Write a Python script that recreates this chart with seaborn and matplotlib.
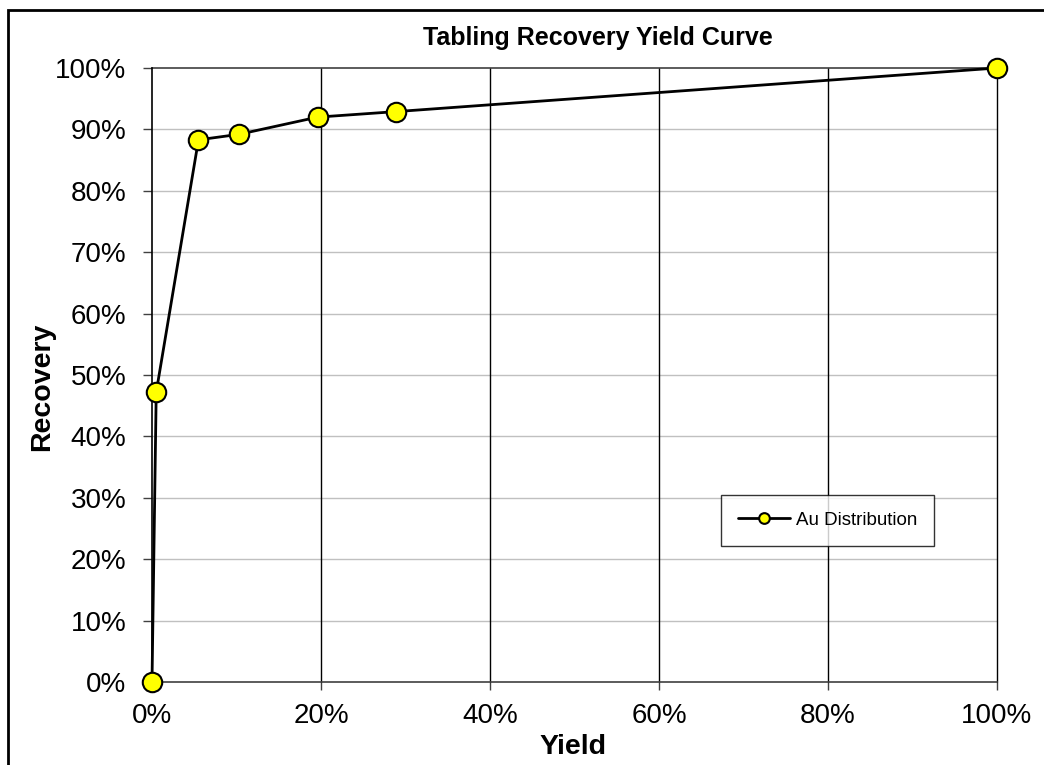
import matplotlib
matplotlib.use("Agg")
import matplotlib.pyplot as plt
import seaborn as sns
import pandas as pd
from matplotlib.patches import Rectangle
from matplotlib.ticker import PercentFormatter, MultipleLocator

sns.set_theme(style="white")
plt.rcParams['font.family'] = ['Liberation Sans', 'DejaVu Sans']
plt.rcParams['text.color'] = 'black'
plt.rcParams['axes.labelcolor'] = 'black'

yield_pct = [0.0, 0.5, 5.5, 10.3, 19.6, 28.9, 100.0]
recovery_pct = [0.0, 47.2, 88.3, 89.2, 92.0, 92.9, 100.0]
series_name = "Au Distribution"

df = pd.DataFrame({"Yield": yield_pct, "Recovery": recovery_pct, "Series": series_name})

fig = plt.figure(figsize=(10.44, 7.65), dpi=100)
ax = fig.add_axes([152/1044, 1-682/765, (997-152)/1044, (682-68)/765])

sns.lineplot(data=df, x="Yield", y="Recovery", hue="Series", palette=["black"],
             marker="o", markersize=14, markerfacecolor="#FFFF00",
             markeredgecolor="black", markeredgewidth=1.5, linewidth=2,
             ax=ax, sort=False, zorder=5, clip_on=False)

ax.set_xlim(0, 100)
ax.set_ylim(0, 100)
ax.xaxis.set_major_locator(MultipleLocator(20))
ax.yaxis.set_major_locator(MultipleLocator(10))
ax.xaxis.set_major_formatter(PercentFormatter(decimals=0))
ax.yaxis.set_major_formatter(PercentFormatter(decimals=0))

ax.grid(False)
for v in range(10, 100, 10):
    ax.axhline(v, color="#c0c0c0", linewidth=1, zorder=1)
for v in range(20, 101, 20):
    ax.axvline(v, color="black", linewidth=1, zorder=1.5, clip_on=False)

for side in ["top", "right"]:
    ax.spines[side].set_visible(False)
ax.spines["left"].set_color("black")
ax.spines["left"].set_linewidth(1.2)
ax.spines["bottom"].set_color("#404040")
ax.spines["bottom"].set_linewidth(1.2)
ax.axhline(100, color="#404040", linewidth=1.2, zorder=1.5, clip_on=False)

ax.tick_params(axis="y", which="major", direction="out", length=6.5, width=1,
               color="#404040", labelsize=20, labelcolor="black", left=True, pad=12)
ax.tick_params(axis="x", which="major", direction="out", length=6, width=1,
               color="#404040", labelsize=20, labelcolor="black", bottom=True, pad=9)

ax.set_xlabel("")
ax.set_ylabel("")
fig.text(573/1044, 1-747/765, "Yield", ha="center", va="center", fontsize=20.5, fontweight="bold")
fig.text(42/1044, 1-387/765, "Recovery", ha="center", va="center", fontsize=20.5,
         fontweight="bold", rotation=90)
fig.text(598/1044, 1-38/765, "Tabling Recovery Yield Curve", ha="center", va="center",
         fontsize=18, fontweight="bold")

leg = ax.legend(loc="upper left", bbox_to_anchor=((721-152)/845, (682-495)/614),
                frameon=True, fancybox=False, edgecolor="black", fontsize=13.5,
                handlelength=2.8, handletextpad=0.3, borderpad=0.9, borderaxespad=0,
                markerscale=0.55, title=None)
leg.get_frame().set_linewidth(1)
leg.set_zorder(10)

fig.patches.append(Rectangle((8/1044, -0.01), 1.0, 1-10/765+0.01, transform=fig.transFigure,
                             fill=False, edgecolor="black", linewidth=2, zorder=10))

fig.savefig("out.png", dpi=100)
